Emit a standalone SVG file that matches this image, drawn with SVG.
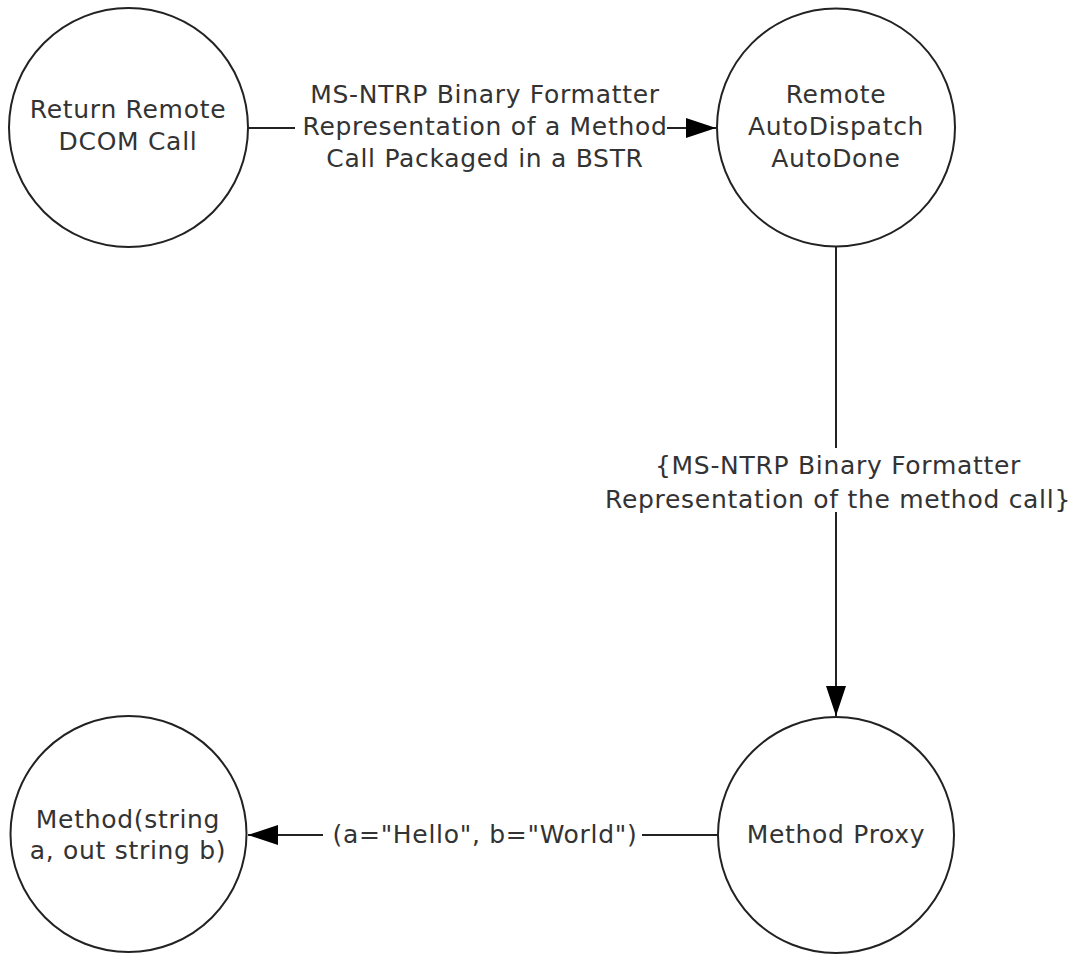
<svg xmlns="http://www.w3.org/2000/svg" width="1078" height="958" viewBox="0 0 1078 958">
<style>
.node{fill:#fff;stroke:#222;stroke-width:2}
.t{font-family:"DejaVu Sans","Verdana",sans-serif;font-size:25px;letter-spacing:0.7px;fill:#333;text-anchor:middle}
.c{stroke:#222;stroke-width:2;fill:none}
</style>
<defs>
<marker id="ah" markerWidth="30" markerHeight="22" refX="30" refY="11" orient="auto" markerUnits="userSpaceOnUse">
<path d="M0,1 L30,11 L0,21 Z" fill="#000"/>
</marker>
</defs>
<rect width="1078" height="958" fill="#fff"/>
<g id="connectors">
<path class="c" d="M248,128 H295"/>
<path class="c" d="M667,128 H716" marker-end="url(#ah)"/>
<text class="t" x="485" y="103">MS-NTRP Binary Formatter</text>
<text class="t" x="485" y="135">Representation of a Method</text>
<text class="t" x="485" y="167">Call Packaged in a BSTR</text>
<path class="c" d="M836,247 V448"/>
<path class="c" d="M836,512 V716" marker-end="url(#ah)"/>
<text class="t" x="838" y="474">{MS-NTRP Binary Formatter</text>
<text class="t" x="838" y="508">Representation of the method call}</text>
<path class="c" d="M717,835 H642"/>
<path class="c" d="M323,835 H248" marker-end="url(#ah)"/>
<text class="t" x="485" y="843">(a="Hello", b="World")</text>
</g>
<g id="n1">
<circle class="node" cx="128.5" cy="127.5" r="119.5"/>
<text class="t" x="128" y="118">Return Remote</text>
<text class="t" x="128" y="150">DCOM Call</text>
</g>
<g id="n2">
<circle class="node" cx="836" cy="127.5" r="119"/>
<text class="t" x="836" y="103">Remote</text>
<text class="t" x="836" y="135">AutoDispatch</text>
<text class="t" x="836" y="167">AutoDone</text>
</g>
<g id="n3">
<circle class="node" cx="128.5" cy="834" r="118"/>
<text class="t" x="128" y="828">Method(string</text>
<text class="t" x="128" y="859">a, out string b)</text>
</g>
<g id="n4">
<circle class="node" cx="836" cy="835" r="118"/>
<text class="t" x="836" y="843">Method Proxy</text>
</g>
</svg>
